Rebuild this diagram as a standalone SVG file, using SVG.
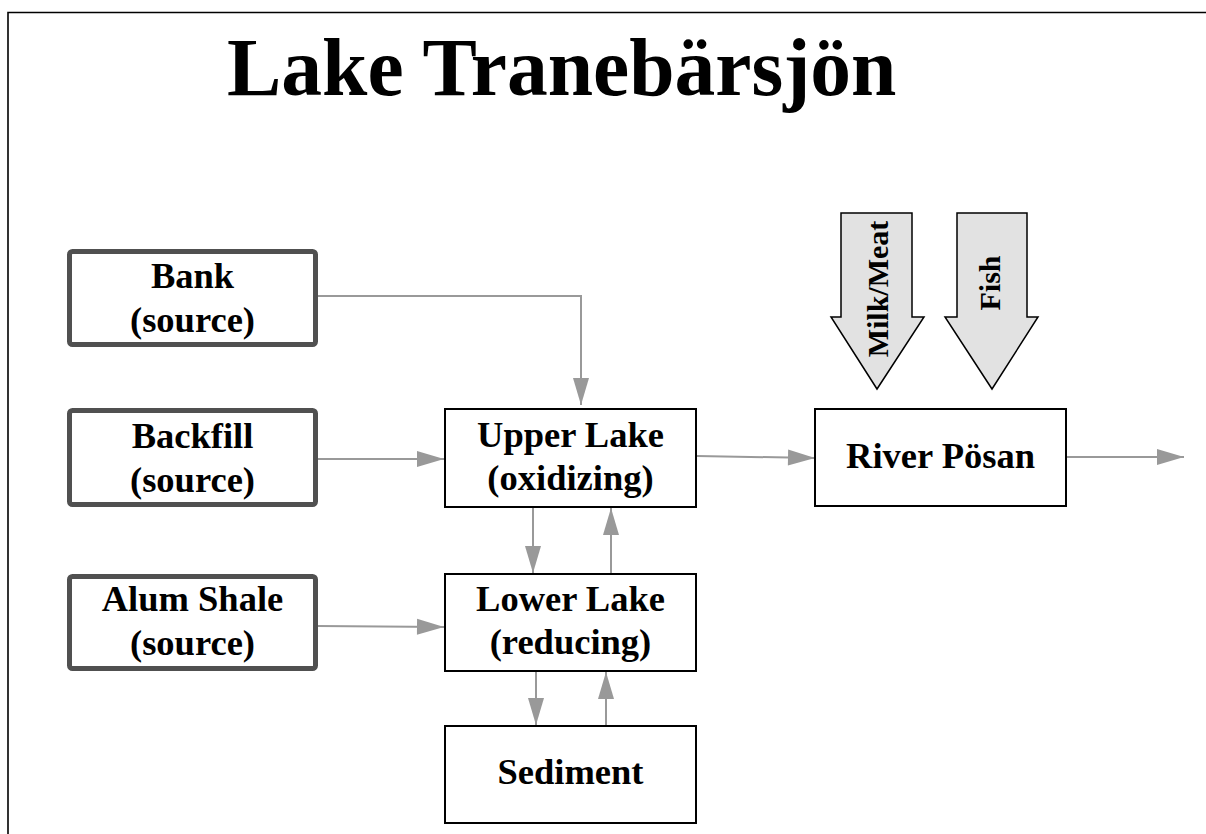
<svg xmlns="http://www.w3.org/2000/svg" width="1206" height="834" viewBox="0 0 1206 834">
  <style>
    text { font-family: "Liberation Serif", "Times New Roman", serif; font-weight: bold; fill: #000; }
    .title { font-size: 81.5px; }
    .lbl { font-size: 36.5px; text-anchor: middle; }
    .vlbl { font-size: 30px; text-anchor: middle; }
    .src { fill: #fff; stroke: #505050; stroke-width: 5; }
    .box { fill: #fff; stroke: #000; stroke-width: 2; }
    .flow { fill: #e2e2e2; stroke: #000; stroke-width: 1.5; stroke-linejoin: miter; }
    .conn { fill: none; stroke: #999; stroke-width: 2; marker-end: url(#head); }
  </style>
  <defs>
    <marker id="head" markerUnits="userSpaceOnUse" markerWidth="27" markerHeight="16" refX="27" refY="8" orient="auto" overflow="visible">
      <path d="M0,0 L27,8 L0,16 Z" fill="#999"/>
    </marker>
  </defs>

  <rect width="1206" height="834" fill="#fff"/>
  <!-- frame edges -->
  <path d="M8,834 V12.5 H1206" fill="none" stroke="#000" stroke-width="1.6"/>

  <text class="title" x="227" y="95">Lake Tranebärsjön</text>

  <g id="connectors">
    <path class="conn" d="M318,296 H581 V405"/>
    <path class="conn" d="M318,459 H444"/>
    <path class="conn" d="M318,626 L444,627"/>
    <path class="conn" d="M697,456 L815,458"/>
    <path class="conn" d="M1067,457 H1184"/>
    <path class="conn" d="M533,507 V573"/>
    <path class="conn" d="M611,573 V508"/>
    <path class="conn" d="M536,671 V725"/>
    <path class="conn" d="M606,725 V672"/>
  </g>

  <g id="bank">
    <rect class="src" x="69.5" y="251.5" width="246" height="93" rx="3"/>
    <text class="lbl" x="192.5" y="288">Bank</text>
    <text class="lbl" x="192.5" y="332">(source)</text>
  </g>

  <g id="backfill">
    <rect class="src" x="69.5" y="410.5" width="246" height="94" rx="3"/>
    <text class="lbl" x="192.5" y="448">Backfill</text>
    <text class="lbl" x="192.5" y="492">(source)</text>
  </g>

  <g id="alum-shale">
    <rect class="src" x="69.5" y="576.5" width="246" height="92" rx="3"/>
    <text class="lbl" x="192.5" y="611">Alum Shale</text>
    <text class="lbl" x="192.5" y="655">(source)</text>
  </g>

  <g id="upper-lake">
    <rect class="box" x="445" y="409" width="251" height="98"/>
    <text class="lbl" x="570.5" y="447">Upper Lake</text>
    <text class="lbl" x="570.5" y="490">(oxidizing)</text>
  </g>

  <g id="lower-lake">
    <rect class="box" x="445" y="574" width="251" height="97"/>
    <text class="lbl" x="570.5" y="611">Lower Lake</text>
    <text class="lbl" x="570.5" y="654">(reducing)</text>
  </g>

  <g id="sediment">
    <rect class="box" x="445" y="726" width="251" height="97"/>
    <text class="lbl" x="570.5" y="784">Sediment</text>
  </g>

  <g id="river-posan">
    <rect class="box" x="815" y="409" width="251" height="97"/>
    <text class="lbl" x="940.5" y="468">River Pösan</text>
  </g>

  <g id="milk-meat">
    <path class="flow" d="M841,213 H912 V317 H924 L877,389 L831,317 H841 Z"/>
    <text class="vlbl" transform="translate(888,289) rotate(-90)">Milk/Meat</text>
  </g>

  <g id="fish">
    <path class="flow" d="M957,213 H1027 V317 H1038 L992,389 L945,317 H957 Z"/>
    <text class="vlbl" transform="translate(1000,283) rotate(-90)">Fish</text>
  </g>
</svg>
